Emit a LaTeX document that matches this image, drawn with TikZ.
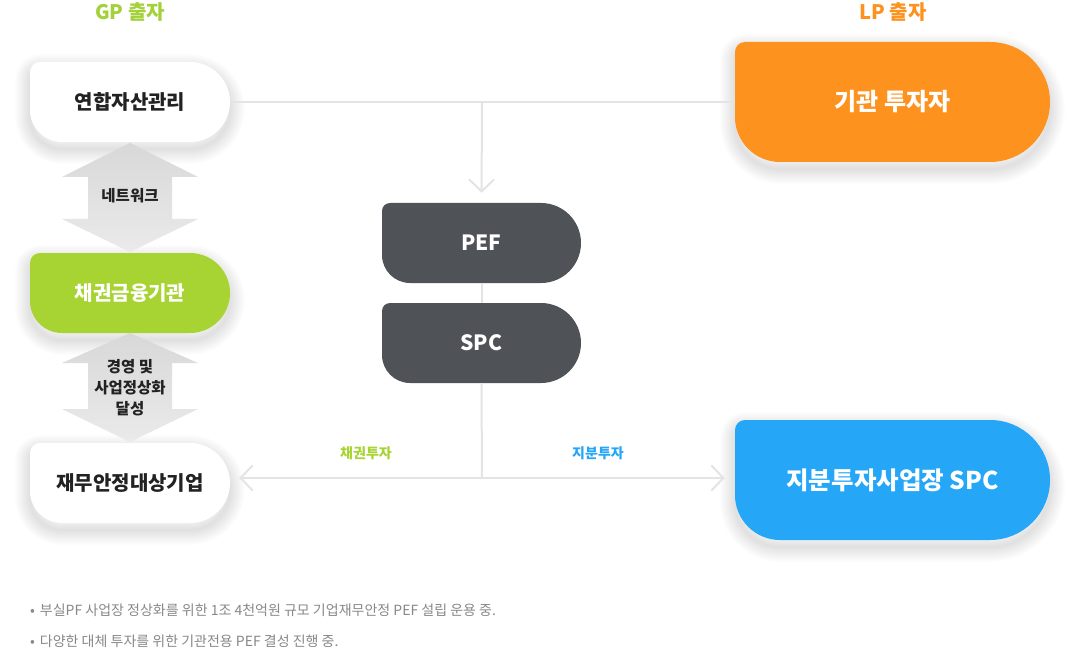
\documentclass[tikz,border=0pt]{standalone}
\usepackage{fontspec}
\setmainfont{Noto Sans CJK KR}
\usetikzlibrary{arrows.meta}
\definecolor{gpgreen}{HTML}{A8D433}
\definecolor{gptitle}{HTML}{A2D13A}
\definecolor{lporange}{HTML}{FD921E}
\definecolor{spcblue}{HTML}{25A6F7}
\definecolor{darkbox}{HTML}{4F5357}
\definecolor{linegray}{HTML}{E4E4E4}
\definecolor{txt}{HTML}{222222}
\definecolor{notegray}{HTML}{888888}
\definecolor{arrtop}{HTML}{D8D8D8}
\definecolor{arrbot}{HTML}{EAEAEA}
\newcommand\blobshape[7]{%
\path[#7] ({#1},{#2+#5}) .. controls ({#1},{#2+0.448*#5}) and ({#1+0.448*#5},{#2}) .. ({#1+#5},{#2})
 -- ({#3-(#4-#2)/2},{#2})
 .. controls ({#3-0.448*(#4-#2)/2},{#2}) and ({#3},{#2+0.448*(#4-#2)/2}) .. ({#3},{(#2+#4)/2})
 .. controls ({#3},{#4-0.448*(#4-#2)/2}) and ({#3-0.448*(#4-#2)/2},{#4}) .. ({#3-(#4-#2)/2},{#4})
 -- ({#1+#6},{#4})
 .. controls ({#1+0.448*#6},{#4}) and ({#1},{#4-0.448*#6}) .. ({#1},{#4-#6})
 -- cycle;}
\newcommand\blob[7]{%
 \foreach \w in {2,4,...,30}{\blobshape{#1}{#2}{#3}{#4}{#5}{#6}{draw=black,line width=\w pt,draw opacity=0.007,line join=round,yshift=-7pt}}%
 \blobshape{#1}{#2}{#3}{#4}{#5}{#6}{fill=#7}}
\begin{document}
\begin{tikzpicture}[x=1pt,y=-1pt,
  boxnode/.style={inner sep=0pt,align=center},
  conn/.style={draw=linegray,line width=2pt},
  tipv/.style={-{Straight Barb[length=12pt,width=25pt]}},
  dbl/.style={top color=arrtop,bottom color=arrbot,draw=none},
  arrlabel/.style={font=\bfseries\fontsize{15.5}{21}\selectfont,text=txt,align=center},
  invlabel/.style={font=\bfseries\fontsize{14}{16}\selectfont},
  title/.style={font=\bfseries\fontsize{20}{24}\selectfont},
  note/.style={anchor=west,text=notegray,font=\fontsize{14}{16}\selectfont,inner sep=0pt}]
\fill[white] (0,0) rectangle (1080,650);
\useasboundingbox (0,0) rectangle (1080,650);

% box shapes (with soft shadows)
\blob{30}{62}{230}{142}{10}{32}{white}
\blob{30}{253}{230}{333}{10}{32}{gpgreen}
\blob{30}{443}{230}{523}{10}{32}{white}
\blobshape{382}{203}{581}{283}{8}{28}{fill=darkbox}
\blobshape{382}{303}{581}{383}{8}{28}{fill=darkbox}
\blob{735}{42}{1050}{162}{10}{45}{lporange}
\blob{735}{420}{1050}{540}{10}{45}{spcblue}

% grey double arrows
\shade[dbl] (130,143) -- (198,177) -- (172,177) -- (172,219) -- (198,219) -- (130,252) -- (62,219) -- (88,219) -- (88,177) -- (62,177) -- cycle;
\shade[dbl] (130,333) -- (198,363) -- (172,363) -- (172,409) -- (198,409) -- (130,442) -- (62,409) -- (88,409) -- (88,363) -- (62,363) -- cycle;

% titles
\node[title,text=gptitle] (gp) at (130,12) {GP 출자};
\node[title,text=lporange] (lp) at (893,12) {LP 출자};

% box nodes
\node[boxnode,minimum width=200pt,minimum height=80pt,text=txt,font=\bfseries\fontsize{20}{24}\selectfont] (yh) at (130,102) {연합자산관리};
\node[boxnode,minimum width=200pt,minimum height=80pt,text=white,font=\bfseries\fontsize{20}{24}\selectfont] (cg) at (130,293) {채권금융기관};
\node[boxnode,minimum width=200pt,minimum height=80pt,text=txt,font=\bfseries\fontsize{20}{24}\selectfont] (jm) at (130,483) {재무안정대상기업};
\node[boxnode,minimum width=199pt,minimum height=80pt,text=white,font=\bfseries\fontsize{21}{26}\selectfont] (pef) at (481.5,243) {PEF};
\node[boxnode,minimum width=199pt,minimum height=80pt,text=white,font=\bfseries\fontsize{21}{26}\selectfont] (spc) at (481.5,343) {SPC};
\node[boxnode,minimum width=315pt,minimum height=120pt,text=white,font=\bfseries\fontsize{24}{28}\selectfont] (inst) at (892.5,102) {기관 투자자};
\node[boxnode,minimum width=315pt,minimum height=120pt,text=white,font=\bfseries\fontsize{24.5}{30}\selectfont] (eq) at (892.5,480) {지분투자사업장 SPC};

% arrow labels
\node[arrlabel] (net) at (130,196) {네트워크};
\node[arrlabel] (mgmt) at (130,388) {경영 및\\사업정상화\\달성};

% connectors
\coordinate (j1) at (482,102);
\coordinate (j3) at (482,478);
\draw[conn] (yh.east) -- (inst.west);
\draw[conn,tipv,shorten >=10pt] (j1) -- (pef.north);
\draw[conn] (pef.south) -- (spc.north);
\draw[conn] (spc.south) -- (j3);
\draw[conn,{Straight Barb[length=12pt,width=25pt]}-{Straight Barb[length=12pt,width=25pt]},shorten <=9pt,shorten >=10pt] (j3 -| jm.east) -- (j3 -| eq.west);

\node[invlabel,text=gpgreen] (bond) at (366,453) {채권투자};
\node[invlabel,text=spcblue] (equity) at (598,453) {지분투자};

% notes
\node[note] (n1) at (30,610) {•\hspace{5pt}부실PF 사업장 정상화를 위한 1조 4천억원 규모 기업재무안정 PEF 설립 운용 중.};
\node[note] (n2) at (30,641) {•\hspace{5pt}다양한 대체 투자를 위한 기관전용 PEF 결성 진행 중.};
\end{tikzpicture}
\end{document}
